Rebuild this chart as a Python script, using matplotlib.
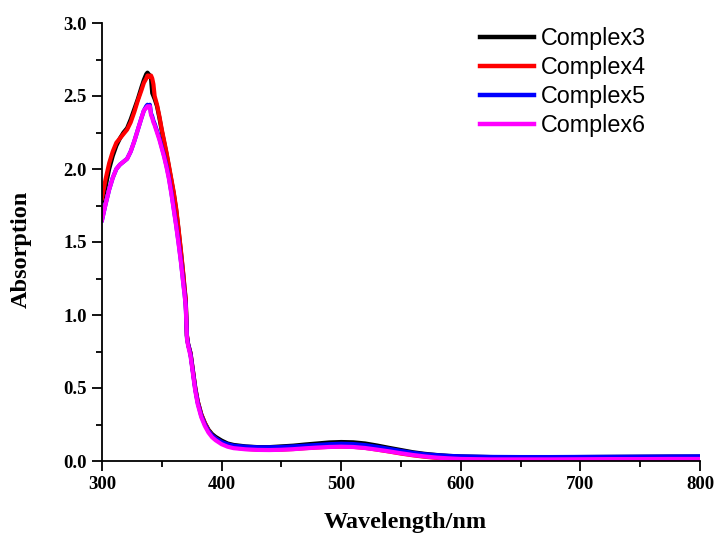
import matplotlib
matplotlib.use("Agg")
import matplotlib.pyplot as plt
from matplotlib.ticker import MultipleLocator, FormatStrFormatter

# UV-Vis absorption spectra of complexes 3-6
wavelength = [300, 303, 306, 309, 312, 315, 318, 321, 324, 327, 330, 333, 335, 337,
              338, 339, 340, 341, 342, 343, 344, 346, 348, 350, 352, 354, 356, 358,
              360, 362, 364, 366, 368, 369, 370, 371, 372, 374, 376, 378, 380, 383,
              386, 389, 392, 395, 400, 405, 410, 420, 430, 440, 450, 460, 470, 480,
              490, 500, 510, 520, 530, 540, 550, 560, 570, 580, 590, 600, 625, 650,
              675, 700, 725, 750, 775, 800]

complex3 = [1.78, 1.88, 2.00, 2.09, 2.16, 2.21, 2.25, 2.28, 2.34, 2.41, 2.48, 2.56, 2.61, 2.65,
            2.66, 2.65, 2.64, 2.62, 2.52, 2.50, 2.48, 2.43, 2.35, 2.26, 2.18, 2.10, 2.01, 1.92,
            1.83, 1.72, 1.58, 1.43, 1.27, 1.18, 1.10, 0.86, 0.80, 0.74, 0.62, 0.50, 0.41, 0.32,
            0.26, 0.215, 0.185, 0.165, 0.14, 0.12, 0.11, 0.10, 0.095, 0.095, 0.10, 0.105, 0.113, 0.12,
            0.127, 0.13, 0.128, 0.12, 0.106, 0.09, 0.075, 0.06, 0.049, 0.041, 0.035, 0.031, 0.027, 0.025,
            0.026, 0.027, 0.028, 0.029, 0.030, 0.030]

complex4 = [1.80, 1.93, 2.04, 2.12, 2.18, 2.21, 2.24, 2.27, 2.32, 2.39, 2.47, 2.54, 2.59, 2.62,
            2.64, 2.64, 2.63, 2.64, 2.62, 2.58, 2.50, 2.44, 2.36, 2.27, 2.19, 2.11, 2.02, 1.93,
            1.84, 1.73, 1.59, 1.44, 1.28, 1.19, 1.11, 0.86, 0.80, 0.74, 0.62, 0.50, 0.41, 0.32,
            0.26, 0.21, 0.175, 0.155, 0.125, 0.105, 0.093, 0.083, 0.078, 0.077, 0.078, 0.082, 0.088, 0.093,
            0.097, 0.099, 0.097, 0.09, 0.078, 0.065, 0.051, 0.039, 0.029, 0.021, 0.016, 0.013, 0.010, 0.010,
            0.010, 0.011, 0.012, 0.012, 0.013, 0.013]

complex5 = [1.65, 1.76, 1.86, 1.94, 2.00, 2.03, 2.05, 2.07, 2.12, 2.19, 2.27, 2.35, 2.40, 2.43,
            2.44, 2.43, 2.44, 2.38, 2.36, 2.33, 2.31, 2.26, 2.21, 2.15, 2.09, 2.02, 1.94, 1.84,
            1.73, 1.62, 1.50, 1.37, 1.22, 1.15, 1.07, 0.85, 0.80, 0.73, 0.61, 0.49, 0.40, 0.31,
            0.25, 0.205, 0.175, 0.155, 0.13, 0.115, 0.105, 0.098, 0.094, 0.094, 0.096, 0.10, 0.105, 0.11,
            0.115, 0.118, 0.116, 0.109, 0.097, 0.083, 0.069, 0.056, 0.046, 0.040, 0.035, 0.032, 0.028, 0.027,
            0.027, 0.028, 0.029, 0.030, 0.031, 0.032]

complex6 = [1.65, 1.76, 1.86, 1.94, 2.00, 2.03, 2.05, 2.07, 2.12, 2.19, 2.27, 2.35, 2.40, 2.42,
            2.43, 2.42, 2.43, 2.37, 2.35, 2.32, 2.30, 2.25, 2.20, 2.14, 2.08, 2.01, 1.93, 1.83,
            1.72, 1.61, 1.49, 1.36, 1.21, 1.14, 1.06, 0.84, 0.79, 0.72, 0.60, 0.48, 0.39, 0.30,
            0.24, 0.195, 0.163, 0.142, 0.115, 0.098, 0.088, 0.08, 0.076, 0.075, 0.077, 0.081, 0.087, 0.092,
            0.096, 0.098, 0.096, 0.089, 0.078, 0.066, 0.053, 0.041, 0.031, 0.023, 0.018, 0.014, 0.011, 0.011,
            0.011, 0.012, 0.013, 0.013, 0.014, 0.014]

labels = ["Complex3", "Complex4", "Complex5", "Complex6"]
colors = ["#000000", "#ff0000", "#0000ff", "#ff00ff"]

plt.rcParams["font.family"] = ["Liberation Serif", "DejaVu Serif"]
plt.rcParams["font.weight"] = "bold"

fig = plt.figure(figsize=(7.18, 5.37), dpi=100)
ax = fig.add_axes([102 / 718, 76 / 537, 598 / 718, 438 / 537])

for values, label, color in zip([complex3, complex4, complex5, complex6], labels, colors):
    ax.plot(wavelength, values, color=color, lw=3.0, label=label, solid_joinstyle="round")

ax.set_xlim(300, 800)
ax.set_ylim(0, 3.0)
ax.xaxis.set_major_locator(MultipleLocator(100))
ax.xaxis.set_minor_locator(MultipleLocator(50))
ax.yaxis.set_major_locator(MultipleLocator(0.5))
ax.yaxis.set_minor_locator(MultipleLocator(0.25))
ax.yaxis.set_major_formatter(FormatStrFormatter("%.1f"))

for side in ["top", "right"]:
    ax.spines[side].set_visible(False)
for side in ["left", "bottom"]:
    ax.spines[side].set_linewidth(1.3)

ax.tick_params(which="major", direction="out", length=7, width=1.3, pad=4, labelsize=13.5)
ax.tick_params(which="minor", direction="out", length=4, width=1.3)

ax.set_xlabel("Wavelength/nm", fontweight="bold", fontsize=17.5)
ax.set_ylabel("Absorption", fontweight="bold", fontsize=17.5)
ax.xaxis.set_label_coords(0.507, -0.116)
ax.yaxis.set_label_coords(-0.117, 0.484)

leg = ax.legend(loc="upper right", bbox_to_anchor=(646 / 718, 1 - 27 / 537),
                bbox_transform=fig.transFigure, frameon=False,
                prop={"family": "Liberation Sans", "weight": "normal", "size": 16.8},
                handlelength=2.3, handletextpad=0.3, labelspacing=0.26,
                borderaxespad=0, borderpad=0)
for line in leg.get_lines():
    line.set_linewidth(3.2)

fig.savefig("out.png", dpi=100)
